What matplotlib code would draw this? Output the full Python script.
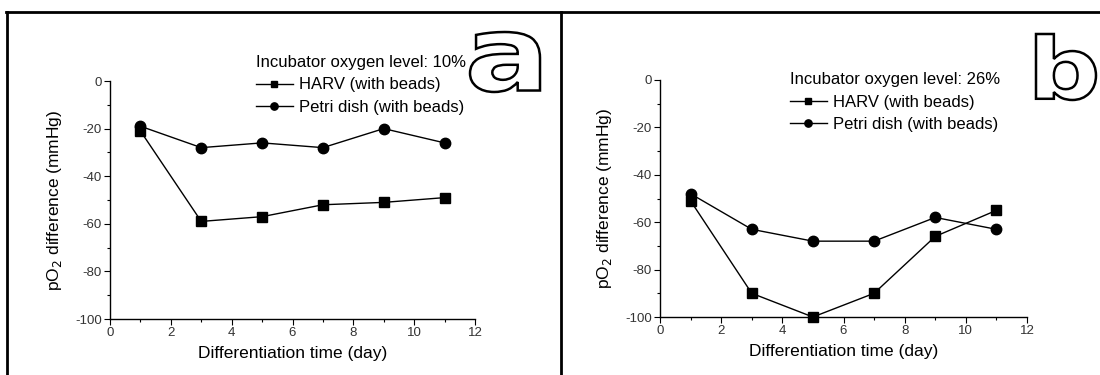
import numpy as np
import matplotlib.pyplot as plt
from matplotlib.lines import Line2D
from matplotlib.textpath import TextPath
from matplotlib.font_manager import FontProperties
from matplotlib.patches import PathPatch
from matplotlib.transforms import Affine2D

plt.rcParams['font.family'] = ['Liberation Sans', 'DejaVu Sans']
plt.rcParams['axes.unicode_minus'] = False

##differentiation time (day)
days = [1, 3, 5, 7, 9, 11]

##panel a, incubator oxygen 10%
harv_10 = [-21, -59, -57, -52, -51, -49]
petri_10 = [-19, -28, -26, -28, -20, -26]

##panel b, incubator oxygen 26%
harv_26 = [-51, -90, -100, -90, -66, -55]
petri_26 = [-48, -63, -68, -68, -58, -63]

x_ticks = [0, 2, 4, 6, 8, 10, 12]
y_ticks = [0, -20, -40, -60, -80, -100]

W, H = 1100, 375
fig = plt.figure(figsize=(W / 100, H / 100), dpi=100)

##frame lines around the panels
fig.add_artist(Line2D([7 / W, 7 / W], [0, 1 - 12 / H], color='black', lw=2))
fig.add_artist(Line2D([561 / W, 561 / W], [0, 1 - 12 / H], color='black', lw=2))
fig.add_artist(Line2D([6 / W, 1], [1 - 12 / H, 1 - 12 / H], color='black', lw=2))


def outlined_letter(ch, x0, y0, x1, y1):
    ##big hollow panel letter, fitted into a pixel box (y from top)
    tp = TextPath((0, 0), ch, size=100,
                  prop=FontProperties(family='DejaVu Sans', weight='bold'))
    ext = tp.get_extents()
    tr = (Affine2D().translate(-ext.x0, -ext.y0)
          .scale((x1 - x0) / W / ext.width, (y1 - y0) / H / ext.height)
          .translate(x0 / W, 1 - y1 / H) + fig.transFigure)
    fig.add_artist(PathPatch(tp, transform=tr, fc='white', ec='black', lw=1.8))


def panel(rect, harv, petri, level, leg_xy):
    ax = fig.add_axes(rect)
    ax.plot(days, harv, 'k-', marker='s', ms=7, lw=1.0,
            label='HARV (with beads)')
    ax.plot(days, petri, 'k-', marker='o', ms=7.5, lw=1.0,
            label='Petri dish (with beads)')
    ax.set_xlim(0, 12)
    ax.set_ylim(-100, 0)
    ax.set_xticks(x_ticks)
    ax.set_yticks(y_ticks)
    ax.set_xticks(np.arange(1, 12, 2), minor=True)
    ax.set_yticks(np.arange(-90, 0, 20), minor=True)
    ax.spines['top'].set_visible(False)
    ax.spines['right'].set_visible(False)
    for s in ('left', 'bottom'):
        ax.spines[s].set_linewidth(1.0)
    ax.tick_params(which='major', direction='out', length=4, width=0.8,
                   labelsize=9.5, labelcolor='#333333', pad=2)
    ax.tick_params(which='minor', direction='out', length=2.5, width=0.8)
    for ln in ax.lines:
        ln.set_clip_on(False)
    ax.set_xlabel('Differentiation time (day)', fontsize=12.5, labelpad=5)
    ax.set_ylabel('pO$_2$ difference (mmHg)', fontsize=12.5, labelpad=8)
    leg = ax.legend(loc='upper left', bbox_to_anchor=leg_xy,
                    bbox_transform=fig.transFigure, frameon=False,
                    title='Incubator oxygen level: ' + level, fontsize=12,
                    title_fontsize=12, handlelength=2.2, handletextpad=0.4,
                    labelspacing=0.45, borderpad=0, borderaxespad=0,
                    markerscale=0.7)
    leg._legend_box.align = 'left'
    return ax


panel([110 / W, 1 - 319 / H, 365 / W, 238 / H], harv_10, petri_10, '10%',
      (256 / W, 1 - 55 / H))
panel([660 / W, 1 - 317 / H, 367 / W, 237 / H], harv_26, petri_26, '26%',
      (790 / W, 1 - 72 / H))
outlined_letter('a', 470, 32, 540, 92)
outlined_letter('b', 1036, 34, 1096, 100)

plt.savefig('out.png', dpi=100)
